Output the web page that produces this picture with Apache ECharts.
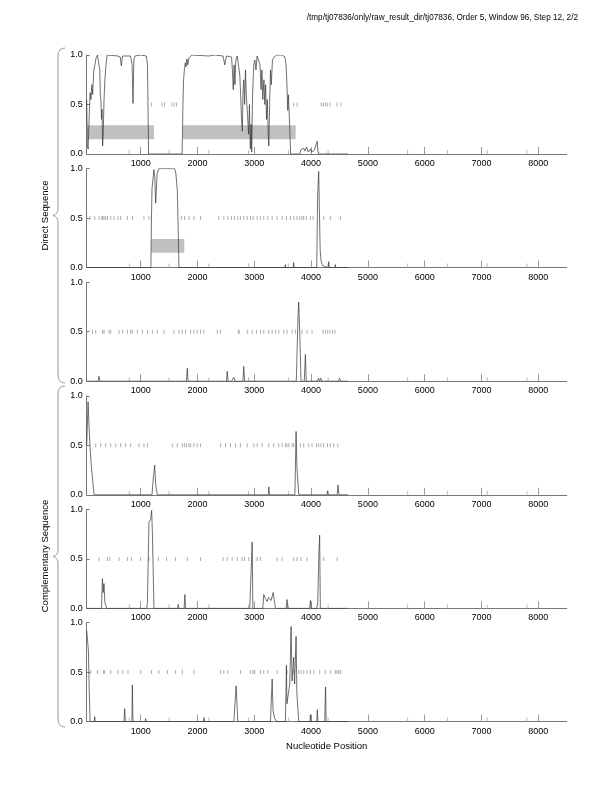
<!DOCTYPE html>
<html><head><meta charset="utf-8">
<script src="https://cdn.jsdelivr.net/npm/echarts@6/dist/echarts.min.js"></script>
<style>html,body{margin:0;padding:0;background:#fff}#c{width:612px;height:792px}</style>
</head><body><div id="c"></div>
<script>
const titleText = "/tmp/tj07836/only/raw_result_dir/tj07836, Order 5, Window 96, Step 12, 2/2";
const yTicks = [0, 0.5, 1.0];
const minorTickPos = [800, 1500, 2200, 2900, 3600, 4300, 5700, 6400, 7100, 7800];

// Direct sequence, frame 1..3 : [position, coding potential]
const direct1 = [[50,0.55],[60,0.1],[75,0.05],[95,0.4],[110,0.62],[125,0.55],[140,0.7],[155,0.6],[175,0.85],[195,0.9],[215,0.97],[240,1.0],[265,0.98],[280,0.85],[290,0.6],[300,0.55],[310,0.35],[320,0.45],[330,0.08],[340,0.2],[355,0.55],[370,0.75],[390,0.9],[410,1.0],[600,0.99],[640,0.98],[660,0.89],[680,0.99],[820,0.99],[850,0.9],[865,0.51],[880,0.95],[900,0.99],[1000,1.0],[1100,0.99],[1120,0.9],[1140,0.0],[1730,0],[1744,0.5],[1755,0.75],[1770,0.85],[1785,0.92],[1800,0.88],[1815,0.96],[1830,0.9],[1850,0.97],[1870,0.99],[1900,1.0],[2200,0.99],[2300,1.0],[2450,0.99],[2480,0.9],[2510,0.99],[2600,0.98],[2615,0.85],[2630,0.65],[2645,0.9],[2660,0.7],[2675,0.95],[2700,0.99],[2730,0.97],[2745,0.8],[2760,0.6],[2775,0.35],[2790,0.23],[2800,0.6],[2815,0.75],[2830,0.5],[2845,0.85],[2860,0.6],[2880,0.4],[2900,0.2],[2915,0.5],[2930,0.05],[2945,0.3],[2955,0.02],[2970,0.6],[2990,0.9],[3010,0.95],[3030,0.85],[3050,0.99],[3080,0.99],[3100,0.9],[3120,0.65],[3135,0.85],[3150,0.55],[3170,0.75],[3185,0.5],[3200,0.7],[3215,0.35],[3230,0.55],[3245,0.2],[3256,0.08],[3270,0.5],[3285,0.85],[3300,0.7],[3320,0.95],[3350,0.98],[3400,1.0],[3480,1.0],[3540,0.98],[3560,0.9],[3575,0.7],[3590,0.44],[3600,0.6],[3615,0.4],[3640,0.0],[3800,0.0],[3820,0.04],[3840,0.02],[3870,0.06],[3890,0.03],[3920,0.07],[3950,0.02],[3990,0.05],[4010,0.02],[4060,0.04],[4090,0.1],[4107,0.13],[4120,0.03],[4140,0],[4650,0]];
const direct2 = [[50,0],[1180,0],[1190,0.5],[1200,0.8],[1234,0.99],[1250,0.9],[1264,0.65],[1290,0.95],[1322,1.0],[1598,1.0],[1620,0.95],[1645,0.78],[1660,0.4],[1674,0],[3540,0],[3548,0.03],[3556,0],[3685,0],[3694,0.05],[3703,0],[4100,0],[4115,0.72],[4134,0.97],[4146,0.6],[4160,0.18],[4175,0.07],[4200,0.02],[4222,0],[4300,0],[4310,0.06],[4320,0],[4420,0],[4427,0.03],[4435,0],[4650,0]];
const direct3 = [[50,0],[250,0],[267,0.05],[285,0],[580,0],[590,0.02],[600,0],[1805,0],[1821,0.13],[1835,0],[2510,0],[2523,0.1],[2540,0],[2600,0],[2640,0.04],[2660,0],[2800,0],[2815,0.15],[2830,0],[3740,0],[3753,0.3],[3770,0.65],[3782,0.8],[3800,0.5],[3823,0],[3880,0],[3900,0.27],[3915,0],[4110,0],[4130,0.03],[4150,0],[4170,0.03],[4190,0],[4480,0],[4500,0.03],[4520,0],[4650,0]];
// Complementary sequence, frame 1..3
const comp1 = [[50,0.5],[74,0.94],[90,0.7],[109,0.48],[133,0.28],[150,0.18],[180,0],[395,0],[402,0.02],[410,0],[650,0],[661,0.02],[670,0],[1200,0],[1223,0.18],[1235,0.22],[1246,0.3],[1265,0.1],[1294,0],[3245,0],[3256,0.08],[3268,0],[3715,0],[3736,0.64],[3750,0.28],[3760,0.2],[3783,0],[4280,0],[4290,0.04],[4300,0],[4460,0],[4475,0.1],[4490,0],[4650,0]];
const comp2 = [[50,0],[140,0],[151,0.02],[160,0],[310,0],[327,0.3],[340,0.16],[355,0.25],[370,0.06],[402,0],[1105,0],[1118,0.05],[1146,0.87],[1176,0.9],[1193,0.99],[1205,0.8],[1234,0],[1650,0],[1662,0.04],[1675,0],[1765,0],[1779,0.14],[1790,0],[2920,0],[2963,0.67],[2975,0],[3150,0],[3167,0.14],[3195,0.1],[3226,0.07],[3250,0.11],[3297,0.08],[3332,0.16],[3373,0],[3560,0],[3577,0.09],[3590,0],[3975,0],[3988,0.08],[4000,0],[4100,0],[4117,0.06],[4140,0.6],[4151,0.74],[4163,0],[4650,0]];
const comp3 = [[50,0.92],[80,0.72],[95,0.3],[110,0],[180,0],[191,0.05],[200,0],[705,0],[719,0.13],[730,0],[845,0],[854,0.37],[865,0],[1080,0],[1088,0.03],[1095,0],[1785,0],[1791,0.02],[1797,0],[2105,0],[2113,0.04],[2125,0],[2640,0],[2681,0.36],[2710,0],[3285,0],[3315,0.43],[3330,0.11],[3360,0.03],[3400,0],[3548,0],[3566,0.57],[3575,0.18],[3607,0.31],[3625,0.38],[3648,0.96],[3665,0.41],[3694,0.65],[3710,0.38],[3736,0.86],[3750,0.28],[3783,0],[3980,0],[3988,0.07],[3996,0],[4100,0],[4110,0.12],[4120,0],[4240,0],[4255,0.35],[4265,0],[4650,0]];

// stop codon positions (drawn at 0.5)
const stops1 = [1188,1375,1420,1550,1590,1630,3694,3754,4180,4215,4250,4285,4330,4455,4525];
const stops2 = [109,191,267,315,332,355,385,415,473,531,601,648,766,859,1058,1146,1715,1773,1850,1937,2054,2376,2464,2535,2599,2652,2710,2757,2815,2875,2933,2980,3050,3109,3167,3238,3315,3400,3490,3566,3636,3700,3753,3800,3841,3870,3917,3988,4035,4222,4339,4515];
const stops3 = [151,209,327,355,443,473,619,678,766,824,854,942,1030,1118,1206,1294,1410,1585,1673,1733,1791,1879,1937,1996,2054,2113,2347,2406,2720,2735,2875,2963,3039,3109,3167,3255,3315,3373,3431,3519,3577,3666,3724,3841,3929,4017,4210,4251,4292,4330,4380,4420];
const stops4 = [209,297,385,473,561,648,736,824,971,1058,1118,1557,1645,1733,1773,1808,1850,1879,1937,1996,2054,2406,2494,2582,2670,2757,2875,2992,3050,3138,3255,3343,3431,3490,3548,3577,3607,3666,3694,3812,3870,3958,4017,4093,4134,4175,4222,4290,4340,4400,4470];
const stops5 = [267,415,455,619,766,837,1000,1146,1311,1457,1615,1821,2054,2453,2523,2611,2699,2787,2828,2904,3050,3109,3402,3490,3694,3753,3824,3929,4222,4460];
const stops6 = [121,239,344,367,473,601,678,777,1000,1188,1322,1469,1615,1733,1937,2406,2464,2535,2757,2933,2980,3009,3109,3167,3238,3402,3577,3694,3782,3823,3870,3929,3988,4046,4152,4251,4339,4427,4457,4486,4515];

// predicted coding regions [start, end] (boxes between 0.15 and 0.29)
const boxes1 = [[50,1234],[1744,3729]];
const boxes2 = [[1188,1768]];
const boxLow = 0.15, boxHigh = 0.29;

const lines = [direct1, direct2, direct3, comp1, comp2, comp3];
const stops = [stops1, stops2, stops3, stops4, stops5, stops6];
const boxes = [boxes1, boxes2, [], [], [], []];

const tops = [55, 168.6, 282.2, 395.8, 509.4, 622.6];
const FONT = '"Liberation Sans", Arial, sans-serif';
const grids = [], xAxes = [], yAxes = [], series = [];
tops.forEach((t, i) => {
  grids.push({left: 86.7, width: 480, top: t, height: 99});
  xAxes.push({type: 'value', gridIndex: i, min: 50, max: 8500, splitNumber: 8,
    axisLine: {lineStyle: {color: '#777', width: 1}},
    axisTick: {inside: true, length: 7, lineStyle: {color: '#999'}},
    axisLabel: {fontSize: 9, color: '#000', fontFamily: FONT, margin: 5, showMinLabel: false, showMaxLabel: false, formatter: v => String(v)},
    splitLine: {show: false}});
  yAxes.push({type: 'value', gridIndex: i, min: 0, max: 1, interval: 0.5,
    axisLine: {show: true, lineStyle: {color: '#777', width: 1}},
    axisTick: {show: true, inside: true, length: 3, lineStyle: {color: '#777'}},
    axisLabel: {fontSize: 9, color: '#000', fontFamily: FONT, margin: 4, formatter: v => v.toFixed(1)},
    splitLine: {show: false}});
  series.push({type: 'line', xAxisIndex: i, yAxisIndex: i, data: lines[i], showSymbol: false, smooth: false,
    lineStyle: {color: '#333', width: 0.7}, z: 3, silent: true, animation: false,
    markArea: {silent: true, itemStyle: {color: '#c0c0c0'},
      data: boxes[i].map(b => [{xAxis: b[0], yAxis: boxLow}, {xAxis: b[1], yAxis: boxHigh}])}});
  series.push({type: 'scatter', xAxisIndex: i, yAxisIndex: i, data: stops[i].map(p => [p, 0.5]),
    symbol: 'rect', symbolSize: [1, 4], itemStyle: {color: '#999'}, silent: true, animation: false, z: 2});
  series.push({type: 'scatter', xAxisIndex: i, yAxisIndex: i, data: minorTickPos.map(p => [p, 0]),
    symbol: 'rect', symbolSize: [1, 4], symbolOffset: [0, -2], itemStyle: {color: '#aaa'}, silent: true, animation: false, z: 1});
});

function brace(y0, y1) {
  const m = (y0 + y1) / 2;
  const st = {stroke: '#999', fill: null, lineWidth: 1};
  return [
    {type: 'bezierCurve', shape: {x1: 65, y1: y0, cpx1: 58, cpy1: y0, x2: 58, y2: y0 + 8}, style: st},
    {type: 'line', shape: {x1: 58, y1: y0 + 8, x2: 58, y2: m - 7}, style: st},
    {type: 'bezierCurve', shape: {x1: 58, y1: m - 7, cpx1: 58, cpy1: m - 1, x2: 53, y2: m}, style: st},
    {type: 'bezierCurve', shape: {x1: 53, y1: m, cpx1: 58, cpy1: m + 1, x2: 58, y2: m + 7}, style: st},
    {type: 'line', shape: {x1: 58, y1: m + 7, x2: 58, y2: y1 - 8}, style: st},
    {type: 'bezierCurve', shape: {x1: 58, y1: y1 - 8, cpx1: 58, cpy1: y1, x2: 65, y2: y1}, style: st}
  ];
}

const chart = echarts.init(document.getElementById('c'), null, {renderer: 'canvas'});
chart.setOption({
  animation: false,
  title: {text: titleText, right: 29, top: 9, textStyle: {fontSize: 8.2, fontWeight: 'normal', color: '#000', fontFamily: FONT}},
  grid: grids, xAxis: xAxes, yAxis: yAxes, series: series,
  graphic: [].concat(brace(48, 383), brace(386, 727), [
    {type: 'text', x: 45, y: 215.5, rotation: Math.PI / 2, style: {text: 'Direct Sequence', fontSize: 9.5, fontFamily: FONT, fill: '#000', textAlign: 'center', textVerticalAlign: 'middle'}},
    {type: 'text', x: 45, y: 556, rotation: Math.PI / 2, style: {text: 'Complementary Sequence', fontSize: 9.5, fontFamily: FONT, fill: '#000', textAlign: 'center', textVerticalAlign: 'middle'}},
    {type: 'text', x: 326.7, y: 746, style: {text: 'Nucleotide Position', fontSize: 9.5, fontFamily: FONT, fill: '#000', textAlign: 'center', textVerticalAlign: 'middle'}}
  ])
});
</script></body></html>
